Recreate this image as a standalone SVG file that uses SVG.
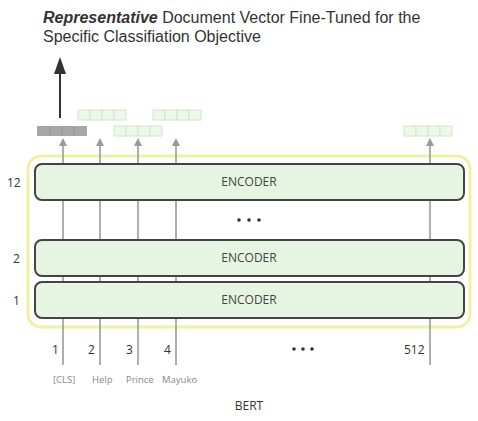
<svg xmlns="http://www.w3.org/2000/svg" width="478" height="421" viewBox="0 0 478 421">
<defs>
<style>
.title{font-family:"Liberation Sans",Arial,sans-serif;font-size:16px;fill:#333}
.lbl{font-family:"Open Sans","Noto Sans",sans-serif;font-size:12px;fill:#333}
.tok{font-family:"Open Sans","Noto Sans",sans-serif;font-size:9.5px;fill:#888}
.enc{fill:#e6f5e1;stroke:#444;stroke-width:2}
.enct{font-family:"Open Sans","Noto Sans",sans-serif;font-size:12px;fill:#444;text-anchor:middle}
.vline{stroke:#9a9a9a;stroke-width:1.6;fill:none}
.cell{fill:#eef8ea;stroke:#cde8c4;stroke-width:1}
.dot{fill:#333}
</style>
</defs>
<rect width="478" height="421" fill="#fff"/>
<g id="title">
<text class="title" x="43" y="23"><tspan font-weight="bold" font-style="italic">Representative</tspan> Document Vector Fine-Tuned for the</text>
<text class="title" x="43" y="42">Specific Classifiation Objective</text>
</g>
<g id="bert-box">
<rect x="28" y="156" width="442" height="171" rx="13" fill="none" stroke="#f0f0a6" stroke-width="3"/>
</g>
<g id="connectors">
<line class="vline" x1="63" y1="365" x2="63" y2="140"/>
<line class="vline" x1="100" y1="365" x2="100" y2="140"/>
<line class="vline" x1="138" y1="365" x2="138" y2="140"/>
<line class="vline" x1="176" y1="365" x2="176" y2="140"/>
<line class="vline" x1="430" y1="365" x2="430" y2="140"/>
<path d="M63,138 l-4,8 h8 Z M100,138 l-4,8 h8 Z M138,138 l-4,8 h8 Z M176,138 l-4,8 h8 Z M430,138 l-4,8 h8 Z" fill="#9a9a9a"/>
<line x1="60" y1="118" x2="60" y2="72" stroke="#333" stroke-width="2"/>
<path d="M60,57 L54,74 L66,74 Z" fill="#333"/>
</g>
<g id="encoder-12">
<rect class="enc" x="35" y="164" width="429" height="36" rx="7"/>
<text class="enct" x="249" y="186">ENCODER</text>
<text class="lbl" x="7" y="187">12</text>
</g>
<g id="encoder-dots">
<circle class="dot" cx="239" cy="220" r="1.8"/>
<circle class="dot" cx="249" cy="220" r="1.8"/>
<circle class="dot" cx="259" cy="220" r="1.8"/>
</g>
<g id="encoder-2">
<rect class="enc" x="35" y="240" width="429" height="36" rx="7"/>
<text class="enct" x="249" y="262">ENCODER</text>
<text class="lbl" x="13" y="263">2</text>
</g>
<g id="encoder-1">
<rect class="enc" x="35" y="282" width="429" height="36" rx="7"/>
<text class="enct" x="249" y="304">ENCODER</text>
<text class="lbl" x="13" y="305">1</text>
</g>
<g id="vec-cls">
<rect x="37" y="126" width="50" height="10" fill="#a4a8a8"/>
<path d="M50,127v8 M62,127v8 M74,127v8" stroke="#777" stroke-width="0.8" stroke-dasharray="1.5,1.5"/>
</g>
<g id="vec-help">
<rect class="cell" x="78" y="110" width="12" height="10"/><rect class="cell" x="90" y="110" width="12" height="10"/><rect class="cell" x="102" y="110" width="12" height="10"/><rect class="cell" x="114" y="110" width="12" height="10"/>
</g>
<g id="vec-prince">
<rect class="cell" x="114" y="126" width="12" height="10"/><rect class="cell" x="126" y="126" width="12" height="10"/><rect class="cell" x="138" y="126" width="12" height="10"/><rect class="cell" x="150" y="126" width="12" height="10"/>
</g>
<g id="vec-mayuko">
<rect class="cell" x="153" y="110" width="12" height="10"/><rect class="cell" x="165" y="110" width="12" height="10"/><rect class="cell" x="177" y="110" width="12" height="10"/><rect class="cell" x="189" y="110" width="12" height="10"/>
</g>
<g id="vec-512">
<rect class="cell" x="404" y="126" width="12" height="10"/><rect class="cell" x="416" y="126" width="12" height="10"/><rect class="cell" x="428" y="126" width="12" height="10"/><rect class="cell" x="440" y="126" width="12" height="10"/>
</g>
<g id="positions">
<text class="lbl" x="52" y="354">1</text>
<text class="lbl" x="88" y="354">2</text>
<text class="lbl" x="126" y="354">3</text>
<text class="lbl" x="164" y="354">4</text>
<circle class="dot" cx="294" cy="349" r="1.8"/>
<circle class="dot" cx="303" cy="349" r="1.8"/>
<circle class="dot" cx="312" cy="349" r="1.8"/>
<text class="lbl" x="404" y="354">512</text>
</g>
<g id="tokens">
<text class="tok" x="53" y="383">[CLS]</text>
<text class="tok" x="92" y="383">Help</text>
<text class="tok" x="126" y="383">Prince</text>
<text class="tok" x="162" y="383">Mayuko</text>
</g>
<g id="bert-label">
<text class="lbl" x="249" y="410" text-anchor="middle">BERT</text>
</g>
</svg>
